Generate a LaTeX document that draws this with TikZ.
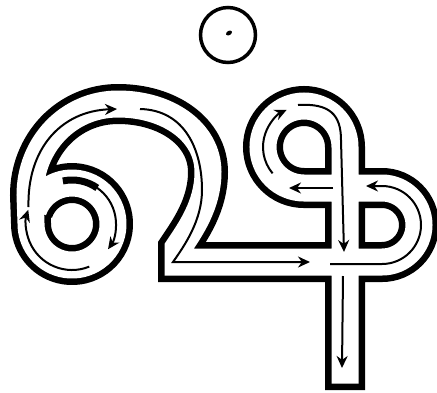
\documentclass[tikz,border=0pt]{standalone}
\usepackage{tikz}
\usetikzlibrary{arrows.meta}

% centre line of the hollow letter
\newcommand{\glyphpath}{(33.5,210) arc[start angle=200, end angle=540, radius=41]
  -- (30,195) .. controls (30,145) and (68,104) .. (118,104)
  .. controls (168,104) and (208,132) .. (208,172)
  .. controls (208,205) and (190,230) .. (178,248)
  -- (178,262) -- (382,262)
  arc[start angle=90, end angle=-90, radius=37]
  -- (304,188)
  arc[start angle=90, end angle=360, radius=41]
  -- (345,390)}

\begin{document}
\begin{tikzpicture}[
    x=1pt, y=-1pt,
    tubewall/.style={line width=40pt, line join=miter},
    tubeinner/.style={line width=27pt, white, line join=miter, shorten >=6.5pt},
    penline/.style={line width=2pt, -{Stealth[length=12pt, width=11pt]}},
    ring/.style={line width=3.5pt}
]
\useasboundingbox (0,0) rectangle (437,392);

% dot above the letter
\draw[ring] (228,35) circle (27.5);
\fill[rotate around={30:(229,33)}] (229,33) ellipse (3.2 and 2.2);

% hollow letter
\draw[tubewall] \glyphpath;
\draw[tubeinner] \glyphpath;

% stroke order, left part
\draw[line width=7pt] (72,224) ++(-102:44) arc[start angle=-102, end angle=-55, radius=44];
\draw[penline] (72,224) ++(-100:44) arc[start angle=-100, end angle=35, radius=44];
\draw[penline] (72,224) ++(68:46) arc[start angle=68, end angle=198, radius=46];
\draw[penline] (28.5,207) .. controls (27,150) and (60,111) .. (117,109);
\draw[penline] (140,109) .. controls (185,110) and (202,150) .. (202,190)
    .. controls (202,220) and (185,245) .. (173,262) -- (310,262);

% stroke order, right part
\draw[penline] (333,188) -- (289,188);
\draw[penline] (304,147) ++(140:41) arc[start angle=140, end angle=245, radius=41];
\draw[penline] (298,105) .. controls (330,103) and (341,115) .. (341,140) -- (344,252);
\draw[penline] (343,276) -- (342,368);
\draw[penline] (330,264) -- (382,264) arc[start angle=90, end angle=-90, radius=39] -- (366,186);

\end{tikzpicture}
\end{document}
